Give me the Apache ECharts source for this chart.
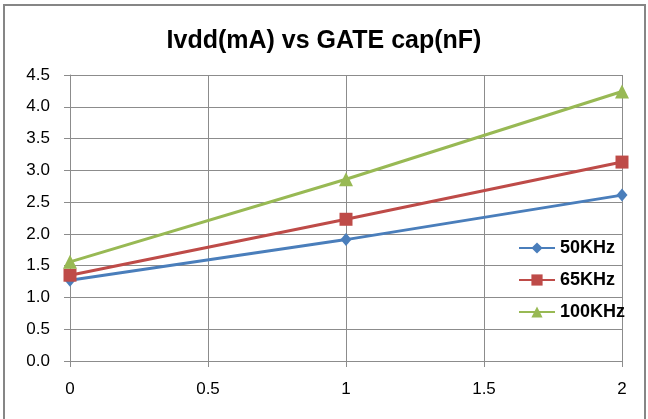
<!DOCTYPE html>
<html>
<head>
<meta charset="utf-8">
<script src="https://cdn.jsdelivr.net/npm/echarts@6/dist/echarts.min.js"></script>
<style>
html,body{margin:0;padding:0;background:#fff;}
#c{width:648px;height:419px;}
</style>
</head>
<body>
<div id="c"></div>
<script>
const xValues = [0, 1, 2];
const s50 = [1.27, 1.91, 2.61];
const s65 = [1.35, 2.23, 3.13];
const s100 = [1.56, 2.86, 4.24];
const seriesNames = ['50KHz', '65KHz', '100KHz'];
const seriesColors = ['#4A7EBB', '#BE4B48', '#98B954'];

const chart = echarts.init(document.getElementById('c'));
const pairs = arr => xValues.map((x, i) => [x, arr[i]]);
const font = 'Arial, "Liberation Sans", sans-serif';
const gridColor = '#8C8C8C';

chart.setOption({
  animation: false,
  backgroundColor: '#fff',
  title: {
    text: 'Ivdd(mA) vs GATE cap(nF)',
    left: 'center',
    top: 24,
    textStyle: {fontFamily: font, fontSize: 25, fontWeight: 'bold', color: '#000'}
  },
  graphic: [{
    type: 'rect', z: -1,
    shape: {x: 4, y: 5, width: 641, height: 430},
    style: {fill: 'none', stroke: '#868686', lineWidth: 2}
  }],
  grid: {left: 70, right: 26, top: 75, bottom: 58, containLabel: false},
  legend: {
    orient: 'vertical',
    left: 518,
    top: 239,
    padding: 0,
    itemWidth: 36,
    itemHeight: 14,
    itemGap: 14,
    itemGap: 14,
    data: seriesNames,
    textStyle: {fontFamily: font, fontSize: 18, fontWeight: 'bold', color: '#000'}
  },
  xAxis: {
    type: 'value', min: 0, max: 2, interval: 0.5,
    axisLine: {show: true, lineStyle: {color: gridColor, width: 1}},
    axisTick: {show: true, length: 6, lineStyle: {color: gridColor}},
    splitLine: {show: true, lineStyle: {color: gridColor, width: 1}},
    axisLabel: {fontFamily: font, fontSize: 17, color: '#000', margin: 20,
      formatter: v => String(v)}
  },
  yAxis: {
    type: 'value', min: 0, max: 4.5, interval: 0.5,
    axisLine: {show: true, lineStyle: {color: gridColor, width: 1}},
    axisTick: {show: true, length: 6, lineStyle: {color: gridColor}},
    splitLine: {show: true, lineStyle: {color: gridColor, width: 1}},
    axisLabel: {fontFamily: font, fontSize: 17, color: '#000', margin: 20,
      formatter: v => v.toFixed(1)}
  },
  series: [
    {name: seriesNames[0], type: 'line', data: pairs(s50), symbol: 'diamond', symbolSize: [11, 13],
     lineStyle: {width: 3, color: seriesColors[0]}, itemStyle: {color: seriesColors[0]}},
    {name: seriesNames[1], type: 'line', data: pairs(s65), symbol: 'rect', symbolSize: 13,
     lineStyle: {width: 3, color: seriesColors[1]}, itemStyle: {color: seriesColors[1]}},
    {name: seriesNames[2], type: 'line', data: pairs(s100), symbol: 'triangle', symbolSize: 14,
     lineStyle: {width: 3, color: seriesColors[2]}, itemStyle: {color: seriesColors[2]}}
  ]
});
</script>
</body>
</html>
